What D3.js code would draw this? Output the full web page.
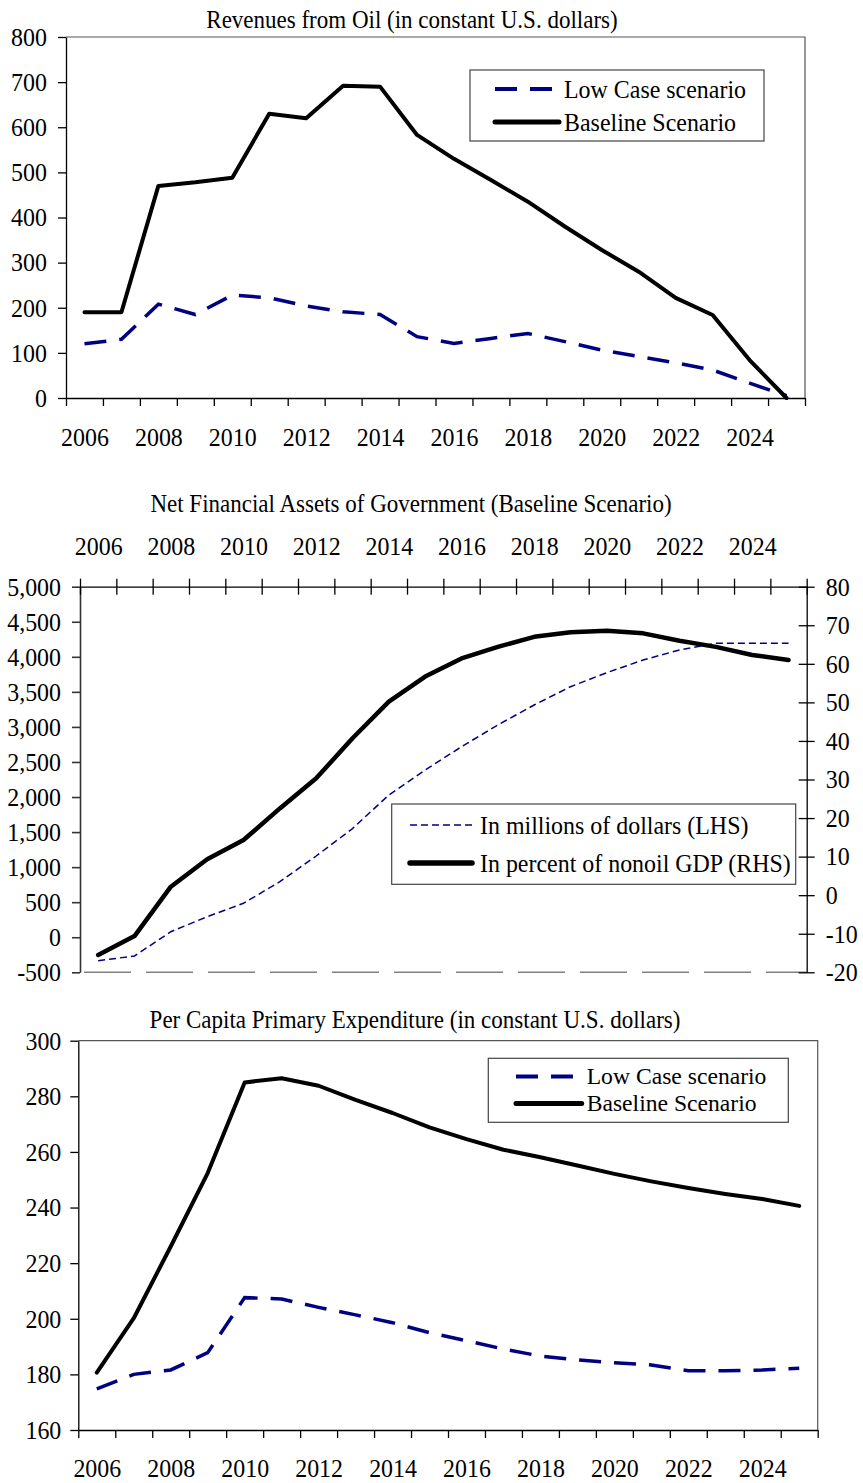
<!DOCTYPE html>
<html lang="en">
<head>
    <meta charset="UTF-8">
    <title>Oil Revenues, Net Financial Assets and Primary Expenditure</title>
    <script src="https://d3js.org/d3.v7.min.js"></script>
    <style>
        body { margin: 0; background: #fff; }
        svg text { font-family: "Liberation Serif", "Times New Roman", serif; fill: #000; }
    </style>
</head>
<body>
<svg width="863" height="1483"></svg>
<script type="text/javascript">

    // ---- data ----
    var years = [2006, 2007, 2008, 2009, 2010, 2011, 2012, 2013, 2014, 2015,
                 2016, 2017, 2018, 2019, 2020, 2021, 2022, 2023, 2024, 2025];
    var yearLabels = [2006, 2008, 2010, 2012, 2014, 2016, 2018, 2020, 2022, 2024];

    // Revenues from oil
    var oilLowCase  = [120, 130, 208, 185, 228, 222, 204, 191, 185, 136, 121, 132, 143, 125, 106, 92, 78, 62, 33, 5];
    var oilBaseline = [190, 190, 470, 478, 488, 630, 620, 692, 690, 583, 530, 483, 435, 380, 328, 280, 222, 184, 84, 0];
    var oilTicks = [0, 100, 200, 300, 400, 500, 600, 700, 800];

    // Net financial assets of government
    var assetsMillions = [-335, -267, 79, 293, 484, 792, 1159, 1550, 2029, 2386,
                          2718, 3028, 3313, 3574, 3774, 3955, 4098, 4193, 4195, 4195];
    var assetsPercent  = [-15.5, -10.6, 2.2, 9.3, 14.3, 22.5, 30.3, 40.7, 50.2, 56.7,
                          61.4, 64.4, 67, 68.2, 68.6, 67.9, 66, 64.4, 62.3, 61];
    var millionsTicks = [-500, 0, 500, 1000, 1500, 2000, 2500, 3000, 3500, 4000, 4500, 5000];
    var percentTicks  = [-20, -10, 0, 10, 20, 30, 40, 50, 60, 70, 80];

    // Per capita primary expenditure
    var expLowCase  = [174.8, 180, 181.6, 187.8, 207.6, 207.1, 204.1, 201.4, 198.6, 195,
                       192.1, 189.1, 186.6, 185.2, 184.2, 183.4, 181.3, 181.3, 181.6, 182.2];
    var expBaseline = [180.6, 200.2, 226, 252.4, 285, 286.5, 283.8, 278.7, 274, 268.8,
                       264.6, 260.8, 258.1, 255.1, 252.1, 249.4, 247, 244.9, 243.1, 240.6];
    var expTicks = [160, 180, 200, 220, 240, 260, 280, 300];

    var svg = d3.select("svg");
    var navy = "#000080";
    var fontSize = 26;     // original type is tall and narrow,
    var squeeze = 0.92;    // so glyphs get squeezed sideways at the end

    // plain hyphen for negatives, like the original
    var locale = d3.formatLocale({decimal: ".", thousands: ",", grouping: [3], currency: ["$", ""], minus: "-"});
    var fmtComma = locale.format(",");
    var fmtInt = locale.format("d");

    // boundaries between years, where the tick marks go
    var yearEdges = years.map(function(d) { return d - 0.5; }).concat([years[years.length - 1] + 0.5]);

    function styleAxis(g, color, width) {
        g.select(".domain").attr("stroke", color).attr("stroke-width", width);
        g.selectAll(".tick line").attr("stroke", color).attr("stroke-width", width);
        g.selectAll(".tick text").style("font-size", fontSize + "px").attr("fill", "#000");
        g.attr("font-family", null).attr("font-size", null);
    }

    function drawLegend(g, box, items) {
        var fs = box.fs || fontSize;
        g.append("rect")
            .attr("x", box.x).attr("y", box.y)
            .attr("width", box.w).attr("height", box.h)
            .attr("fill", "#fff").attr("stroke", "#444").attr("stroke-width", 1.2);
        items.forEach(function(it, i) {
            var cy = box.rows[i];
            g.append("line")
                .attr("x1", box.sx0).attr("x2", box.sx1)
                .attr("y1", cy).attr("y2", cy)
                .attr("stroke", it.color)
                .attr("stroke-width", it.width)
                .attr("stroke-dasharray", it.dash)
                .attr("stroke-linecap", it.dash ? "butt" : "round");
            g.append("text")
                .attr("class", box.sq ? "fixed" : null)
                .attr("data-sq", box.sq || null)
                .attr("x", box.tx).attr("y", cy + fs * 0.34)
                .style("font-size", fs + "px")
                .text(it.label);
        });
    }

    // ---- top and bottom panels share one layout ----
    function drawPanel(cfg) {
        var g = svg.append("g");
        var x = d3.scaleLinear().domain([2005.5, 2025.5]).range([cfg.left, cfg.right]);
        var y = d3.scaleLinear().domain(cfg.domain).range([cfg.bottom, cfg.top]);

        // title
        g.append("text")
            .attr("x", cfg.titleX).attr("y", cfg.titleY)
            .attr("text-anchor", "middle")
            .style("font-size", "25px")
            .text(cfg.title);

        // grey frame on top and right
        g.append("path")
            .attr("d", "M" + cfg.left + "," + cfg.top + "H" + cfg.right + "V" + cfg.bottom)
            .attr("fill", "none").attr("stroke", "#555").attr("stroke-width", 1.2);

        // y axis
        g.append("g")
            .attr("transform", "translate(" + cfg.left + ",0)")
            .call(d3.axisLeft(y).tickValues(cfg.ticks).tickSize(8).tickSizeOuter(0).tickPadding(cfg.pad))
            .call(styleAxis, "#000", 1.3);

        // x axis: marks between years
        g.append("g")
            .attr("transform", "translate(0," + cfg.bottom + ")")
            .call(d3.axisBottom(x).tickValues(yearEdges).tickSize(8).tickSizeOuter(0).tickFormat(""))
            .call(styleAxis, "#000", 1.3);

        // year labels, every second year
        var lab = g.append("g")
            .attr("transform", "translate(0," + cfg.labelY + ")")
            .call(d3.axisBottom(x).tickValues(yearLabels).tickSize(0).tickFormat(d3.format("d")))
            .call(styleAxis, "#000", 1);
        lab.select(".domain").remove();
        lab.selectAll(".tick text").attr("y", 0).attr("dy", null);

        var line = function(vals) {
            return d3.line()
                .x(function(d, i) { return x(years[i]); })
                .y(function(d) { return y(d); })(vals);
        };

        g.append("path")
            .attr("d", line(cfg.low))
            .attr("fill", "none").attr("stroke", navy)
            .attr("stroke-width", 3.5).attr("stroke-dasharray", "22,13");

        g.append("path")
            .attr("d", line(cfg.base))
            .attr("fill", "none").attr("stroke", "#000")
            .attr("stroke-width", 4).attr("stroke-linejoin", "round").attr("stroke-linecap", "round");

        drawLegend(g, cfg.legend, [
            {label: "Low Case scenario", color: navy, width: 4, dash: "22,13"},
            {label: "Baseline Scenario", color: "#000", width: 5, dash: null}
        ]);
    }

    drawPanel({
        title: "Revenues from Oil (in constant U.S. dollars)", titleX: 412, titleY: 28,
        left: 66, right: 805, top: 37, bottom: 398, labelY: 446, pad: 11,
        domain: [0, 800], ticks: oilTicks, low: oilLowCase, base: oilBaseline,
        legend: {x: 470, y: 70, w: 294, h: 71, sx0: 495, sx1: 559, tx: 564, rows: [89, 122]}
    });

    drawPanel({
        title: "Per Capita Primary Expenditure (in constant U.S. dollars)", titleX: 415, titleY: 1028,
        left: 78.3, right: 817.7, top: 1040.7, bottom: 1430, labelY: 1477, pad: 9,
        domain: [160, 300], ticks: expTicks, low: expLowCase, base: expBaseline,
        // rows sit close together here, so the type is smaller and stretched back out
        legend: {x: 488.3, y: 1058.3, w: 300, h: 64, sx0: 516, sx1: 581.7, tx: 586.7,
                 rows: [1076.5, 1103.5], fs: 22.5, sq: 1.05}
    });

    // ---- middle panel: two y axes, year axis on top ----
    (function() {
        var left = 80, right = 806.7, top = 586.7, bottom = 972.3;
        var g = svg.append("g");
        var x = d3.scaleLinear().domain([2005.5, 2025.5]).range([left, right]);
        var yL = d3.scaleLinear().domain([-500, 5000]).range([bottom, top]);
        var yR = d3.scaleLinear().domain([-20, 80]).range([bottom, top]);

        g.append("text")
            .attr("x", 411).attr("y", 512)
            .attr("text-anchor", "middle")
            .style("font-size", "25px")
            .text("Net Financial Assets of Government (Baseline Scenario)");

        // dashed grey line along the bottom
        g.append("line")
            .attr("x1", 84).attr("x2", right)
            .attr("y1", bottom).attr("y2", bottom)
            .attr("stroke", "#808080").attr("stroke-width", 1.5)
            .attr("stroke-dasharray", "47,15");

        // left axis (millions)
        g.append("g")
            .attr("transform", "translate(" + left + ",0)")
            .call(d3.axisLeft(yL).tickValues(millionsTicks).tickSize(8).tickSizeOuter(0).tickPadding(11).tickFormat(fmtComma))
            .call(styleAxis, "#333", 1.6);

        // right axis (percent), crossing ticks
        var ra = g.append("g")
            .attr("transform", "translate(" + right + ",0)")
            .call(d3.axisRight(yR).tickValues(percentTicks).tickSize(8).tickSizeOuter(0).tickPadding(11).tickFormat(fmtInt))
            .call(styleAxis, "#000", 1.3);
        ra.selectAll(".tick line").attr("x1", -8);
        ra.selectAll(".tick text").attr("text-anchor", "start");

        // top axis with crossing ticks between years
        var ta = g.append("g")
            .attr("transform", "translate(0," + top + ")")
            .call(d3.axisTop(x).tickValues(yearEdges).tickSize(8).tickSizeOuter(0).tickFormat(""))
            .call(styleAxis, "#000", 1.3);
        ta.selectAll(".tick line").attr("y1", 8);

        var lab = g.append("g")
            .attr("transform", "translate(0,555)")
            .call(d3.axisBottom(x).tickValues(yearLabels).tickSize(0).tickFormat(d3.format("d")))
            .call(styleAxis, "#000", 1);
        lab.select(".domain").remove();
        lab.selectAll(".tick text").attr("y", 0).attr("dy", null);

        g.append("path")
            .attr("d", d3.line()
                .x(function(d, i) { return x(years[i]); })
                .y(function(d) { return yL(d); })(assetsMillions))
            .attr("fill", "none").attr("stroke", navy)
            .attr("stroke-width", 1.5).attr("stroke-dasharray", "7,4");

        g.append("path")
            .attr("d", d3.line()
                .x(function(d, i) { return x(years[i]); })
                .y(function(d) { return yR(d); })(assetsPercent))
            .attr("fill", "none").attr("stroke", "#000")
            .attr("stroke-width", 4.5).attr("stroke-linejoin", "round").attr("stroke-linecap", "round");

        drawLegend(g, {x: 391.7, y: 804, w: 404, h: 80.3, sx0: 410, sx1: 472, tx: 480, rows: [825, 863]}, [
            {label: "In millions of dollars (LHS)", color: navy, width: 1.5, dash: "7,4"},
            {label: "In percent of nonoil GDP (RHS)", color: "#000", width: 5.5, dash: null}
        ]);
    })();

    // squeeze every label sideways to get the narrow look of the original type
    svg.selectAll("text").each(function() {
        var len = this.getComputedTextLength();
        var sq = +this.getAttribute("data-sq") || squeeze;
        d3.select(this)
            .attr("textLength", len * sq)
            .attr("lengthAdjust", "spacingAndGlyphs");
    });

</script>
</body>
</html>
